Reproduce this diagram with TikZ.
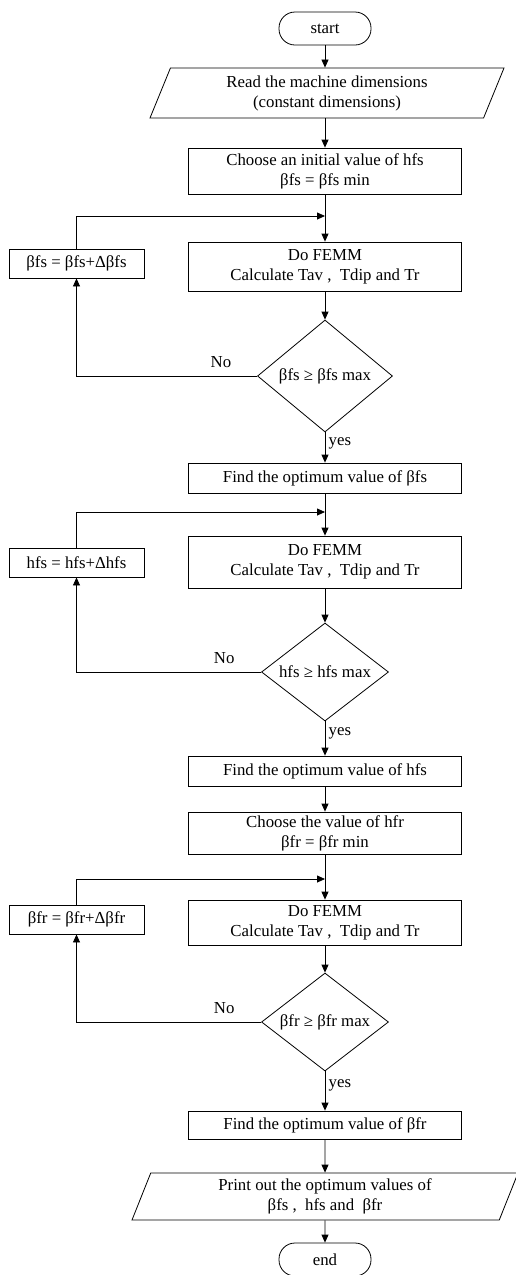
\documentclass[tikz,border=0pt]{standalone}
\usepackage{fontspec}
\setmainfont{Liberation Serif}
\usetikzlibrary{arrows.meta,positioning,shapes.geometric}

\begin{document}
\begin{tikzpicture}[
    x=1pt, y=-1pt,
    font=\fontsize{16.8}{20}\selectfont,
    line width=0.8pt,
    >={Triangle[length=8pt,width=7pt]},
    terminal/.style={draw,rounded corners=16pt,minimum width=92pt,minimum height=33pt},
    inout/.style={trapezium,trapezium left angle=64,trapezium right angle=116,trapezium stretches body,draw,align=center,minimum width=354pt,minimum height=50pt},
    process/.style={draw,align=center,minimum width=273pt,inner sep=0pt},
    update/.style={draw,minimum width=135pt,minimum height=29pt,inner sep=0pt},
    decision/.style={diamond,draw,aspect=1.3,inner sep=0pt,minimum width=127pt,minimum height=98pt}
]
    \useasboundingbox (0,0) rectangle (516,1275);

    % main column
    \node[terminal] (start) at (325,28.5)  {start};
    \node[inout]    (read)  at (327,93)    {Read the machine dimensions\\(constant dimensions)};
    \node[process,minimum height=46pt] (init) at (325,171) {Choose an initial value of hfs\\βfs = βfs min};

    % first loop: beta fs
    \node[process,minimum height=49pt] (femmA) at (325,266.5) {Do FEMM\\Calculate Tav ,\ \ Tdip and Tr};
    \node[update]   (updA)  at (76.5,263.5) {βfs = βfs+Δβfs};
    \node[decision,minimum width=135pt,minimum height=112pt] (testA) at (325,376) {βfs ≥ βfs max};
    \node[process,minimum height=30pt] (optA) at (325,478) {Find the optimum value of βfs};
    \coordinate (joinA) at (325,216);

    % second loop: hfs
    \node[process,minimum height=52pt] (femmB) at (325,562) {Do FEMM\\Calculate Tav ,\ \ Tdip and Tr};
    \node[update]   (updB)  at (76.5,562.5) {hfs = hfs+Δhfs};
    \node[decision] (testB) at (325,672) {hfs ≥ hfs max};
    \node[process,minimum height=30pt] (optB) at (325,771) {Find the optimum value of hfs};
    \coordinate (joinB) at (325,512);

    % third loop: beta fr
    \node[process,minimum height=42pt] (initR) at (325,833) {Choose the value of hfr\\βfr = βfr min};
    \node[process,minimum height=45pt] (femmC) at (325,922.5) {Do FEMM\\Calculate Tav ,\ \ Tdip and Tr};
    \node[update]   (updC)  at (76.5,919.5) {βfr = βfr+Δβfr};
    \node[decision] (testC) at (325,1022) {βfr ≥ βfr max};
    \node[process,minimum height=28pt] (optC) at (325,1125) {Find the optimum value of βfr};
    \coordinate (joinC) at (325,879);

    \node[inout,minimum width=386pt,minimum height=47pt,trapezium left angle=66,trapezium right angle=114] (print) at (325,1196.5) {Print out the optimum values of\\βfs ,\ \ hfs and\ \ βfr};
    \node[terminal] (stop) at (325,1259.5) {end};

    \draw[->] (start) -- (start |- read.north);
    \draw[->] (read.south -| init) -- (init);
    \draw[->] (init) -- (femmA);
    \draw[->] (femmA) -- (testA);
    \draw[->] (testA.west) -| node[pos=0.1,above=5pt] {No} (updA.south);
    \draw[->] (updA.north) |- (joinA);
    \draw[->] (testA.south) -- node[pos=0.35,right] {yes} (optA);

    \draw[->] (optA) -- (femmB);
    \draw[->] (femmB) -- (testB);
    \draw[->] (testB.west) -| node[pos=0.1,above=5pt] {No} (updB.south);
    \draw[->] (updB.north) |- (joinB);
    \draw[->] (testB.south) -- node[pos=0.35,right] {yes} (optB);

    \draw[->] (optB) -- (initR);
    \draw[->] (initR) -- (femmC);
    \draw[->] (femmC) -- (testC);
    \draw[->] (testC.west) -| node[pos=0.1,above=5pt] {No} (updC.south);
    \draw[->] (updC.north) |- (joinC);
    \draw[->] (testC.south) -- node[pos=0.35,right] {yes} (optC);

    \draw[->] (optC) -- (print);
    \draw[->] (print) -- (stop);
\end{tikzpicture}
\end{document}
